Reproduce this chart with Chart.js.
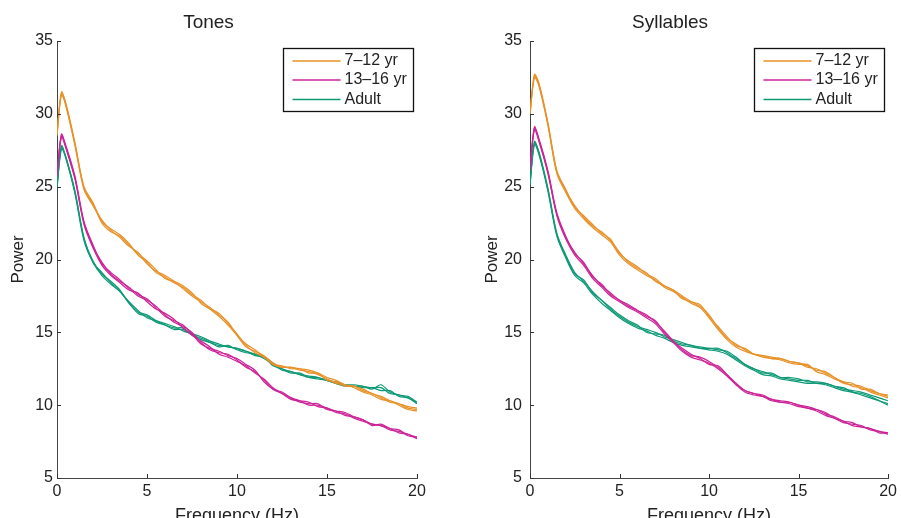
<!DOCTYPE html>
<html>
<head>
<meta charset="utf-8">
<script src="https://cdn.jsdelivr.net/npm/chart.js@4.4.1/dist/chart.umd.min.js"></script>
<style>
  body { margin: 0; background: #fff; width: 901px; height: 518px; overflow: hidden; position: relative; }
  .panel { position: absolute; top: 0; height: 518px; }
  #left { left: 0; width: 450px; }
  #right { left: 450px; width: 451px; }
</style>
</head>
<body>
<div class="panel" id="left"><canvas id="tones"></canvas></div>
<div class="panel" id="right"><canvas id="syllables"></canvas></div>
<script>
// frequency axis (Hz)
const freqs = [0, 0.25, 0.5, 1, 1.5, 2, 2.5, 3, 3.5, 4, 4.5, 5, 5.5, 6, 6.5, 7, 7.5, 8, 8.5, 9, 9.5,
               10, 10.5, 11, 11.5, 12, 12.5, 13, 13.5, 14, 14.5, 15, 15.5, 16, 16.5, 17, 17.5, 18, 18.5, 19, 19.5, 20];
const groups = ["7\u201312 yr", "13\u201316 yr", "Adult"];
const xTicks = [0, 5, 10, 15, 20];
const yTicks = [5, 10, 15, 20, 25, 30, 35];

// Tones
const tonesKidsA = [28.5,31.4,30.7,28.0,25.0,23.9,22.6,22.1,21.7,21.1,20.3,19.8,19.1,18.8,18.4,18.1,17.6,17.2,16.6,16.1,15.5,14.8,14.2,13.8,13.3,12.8,12.6,12.6,12.5,12.4,12.2,11.9,11.7,11.4,11.3,11.1,10.8,10.6,10.3,10.1,9.9,9.8];
const tonesKidsB = [28.7,31.3,30.5,27.8,24.8,23.7,22.7,22.0,21.5,20.9,20.5,19.7,19.2,18.9,18.5,18.0,17.5,17.1,16.7,16.2,15.7,14.8,14.0,13.7,13.4,12.9,12.6,12.6,12.4,12.3,12.1,11.8,11.5,11.4,11.2,10.9,10.7,10.4,10.3,10.0,9.7,9.6];
const tonesKidsC = [28.6,31.5,30.6,27.9,24.9,23.8,22.5,21.9,21.6,21.0,20.4,19.9,19.3,18.7,18.5,18.2,17.7,17.0,16.6,16.3,15.6,14.9,14.1,13.6,13.3,12.8,12.7,12.5,12.5,12.2,12.2,11.7,11.6,11.3,11.3,11.0,10.8,10.5,10.2,10.1,9.8,9.7];

const tonesTeenA = [25.7,28.5,27.8,25.7,22.6,21.0,19.7,19.1,18.6,18.0,17.5,17.2,16.8,16.2,15.7,15.4,15.0,14.3,13.8,13.6,13.5,13.1,12.6,12.3,11.7,11.1,10.8,10.5,10.3,10.0,10.0,9.8,9.6,9.3,9.2,9.0,8.7,8.6,8.3,8.2,8.0,7.8];
const tonesTeenB = [25.9,28.4,27.6,25.5,22.4,20.8,19.6,18.9,18.4,17.9,17.7,17.1,16.6,16.3,15.9,15.3,14.8,14.4,14.0,13.5,13.3,13.0,12.7,12.2,11.8,11.2,10.8,10.4,10.3,10.2,9.9,9.8,9.5,9.4,9.1,8.9,8.7,8.6,8.4,8.1,8.0,7.7];
const tonesTeenC = [25.8,28.6,27.7,25.6,22.5,20.9,19.8,19.0,18.5,18.1,17.6,17.3,16.7,16.1,15.8,15.5,14.9,14.2,13.9,13.7,13.4,13.2,12.8,12.4,11.6,11.1,10.9,10.5,10.2,10.1,10.1,9.7,9.6,9.5,9.2,9.0,8.6,8.7,8.4,8.3,7.9,7.8];

const tonesAdultA = [25.0,27.8,27.0,24.7,21.5,19.9,19.0,18.5,17.9,17.0,16.4,16.2,15.8,15.5,15.2,15.2,14.9,14.5,14.3,14.1,14.0,13.9,13.7,13.4,13.3,12.7,12.5,12.3,12.1,11.9,11.9,11.7,11.5,11.4,11.3,11.3,11.1,11.4,10.9,10.7,10.6,10.2];
const tonesAdultB = [25.1,27.7,26.9,24.6,21.4,19.8,19.1,18.4,17.8,17.1,16.5,16.0,15.8,15.6,15.4,15.1,14.9,14.7,14.4,14.2,14.0,13.9,13.7,13.5,13.2,12.8,12.4,12.3,12.1,12.0,11.9,11.7,11.6,11.4,11.4,11.3,11.2,11.2,10.8,10.7,10.5,10.2];
const tonesAdultC = [24.9,27.6,27.0,24.5,21.3,19.8,18.9,18.3,17.8,17.0,16.3,16.1,15.7,15.5,15.3,15.3,14.8,14.6,14.3,14.0,14.1,13.8,13.6,13.5,13.3,12.9,12.5,12.2,12.2,11.9,11.8,11.7,11.5,11.3,11.3,11.2,11.2,11.0,11.0,10.6,10.5,10.1];

// Syllables
const syllKidsA = [29.9,32.7,32.1,29.4,26.1,24.8,23.6,23.0,22.4,21.8,21.4,20.4,19.9,19.5,19.0,18.7,18.2,17.9,17.5,17.1,16.8,16.2,15.3,14.6,14.2,13.8,13.5,13.4,13.3,13.2,13.0,12.9,12.6,12.5,12.2,11.9,11.6,11.5,11.1,11.1,10.8,10.7];
const syllKidsB = [30.1,32.5,31.9,29.2,25.9,24.6,23.5,22.8,22.2,21.7,21.2,20.3,19.7,19.3,18.9,18.6,18.1,17.8,17.4,17.0,16.7,16.0,15.2,14.5,14.0,13.7,13.5,13.3,13.2,13.1,12.9,12.8,12.8,12.3,12.1,11.8,11.6,11.3,11.2,10.9,10.7,10.5];
const syllKidsC = [30.0,32.6,32.0,29.3,26.0,24.7,23.7,22.9,22.3,21.9,21.3,20.5,19.8,19.4,19.1,18.5,18.2,17.9,17.3,17.1,16.9,16.1,15.4,14.7,14.1,13.9,13.5,13.4,13.2,13.2,13.0,12.9,12.7,12.4,12.3,11.9,11.5,11.4,11.3,11.0,10.8,10.6];

const syllTeenA = [26.1,29.0,28.3,26.1,23.2,21.6,20.4,19.8,18.8,18.3,17.6,17.2,16.8,16.5,16.2,15.7,15.1,14.4,13.8,13.4,13.3,13.0,12.6,12.1,11.5,11.0,10.8,10.7,10.4,10.3,10.2,10.0,9.9,9.7,9.4,9.2,8.9,8.8,8.5,8.4,8.2,8.1];
const syllTeenB = [26.2,28.9,28.1,25.9,23.0,21.4,20.3,19.6,18.7,18.1,17.5,17.1,16.7,16.4,16.0,15.6,14.9,14.3,13.7,13.3,13.1,12.9,12.5,12.0,11.4,10.9,10.7,10.6,10.3,10.2,10.1,9.9,9.8,9.6,9.3,9.1,8.8,8.7,8.6,8.3,8.2,8.0];
const syllTeenC = [26.3,29.1,28.2,26.0,23.1,21.5,20.5,19.7,18.9,18.2,17.7,17.2,16.9,16.5,16.1,15.8,15.0,14.4,13.9,13.5,13.2,12.8,12.7,12.1,11.5,11.0,10.8,10.6,10.4,10.2,10.2,10.0,9.8,9.7,9.5,9.1,8.9,8.6,8.5,8.4,8.1,8.1];

const syllAdultA = [25.2,28.0,27.4,24.9,21.8,20.3,19.1,18.5,17.8,17.2,16.6,16.1,15.7,15.4,15.2,15.0,14.7,14.5,14.3,14.1,14.0,13.9,13.9,13.6,13.2,12.8,12.5,12.2,12.2,11.9,11.9,11.8,11.6,11.6,11.5,11.3,11.1,11.0,10.9,10.7,10.5,10.3];
const syllAdultB = [25.1,27.9,27.2,24.7,21.6,20.1,18.9,18.4,17.6,17.0,16.5,16.0,15.6,15.3,15.1,14.8,14.6,14.3,14.1,14.0,13.9,13.8,13.7,13.5,13.1,12.7,12.4,12.1,12.0,11.8,11.7,11.6,11.5,11.5,11.4,11.2,11.0,10.9,10.7,10.5,10.3,10.1];
const syllAdultC = [25.3,28.1,27.3,24.8,21.7,20.2,19.0,18.6,17.7,17.2,16.7,16.2,15.8,15.5,15.0,14.9,14.8,14.4,14.2,14.1,13.9,13.9,13.8,13.7,13.3,12.8,12.5,12.3,12.1,11.9,11.8,11.7,11.7,11.5,11.5,11.3,11.2,10.9,10.8,10.6,10.3,10.0];

const colors = ["rgb(232,145,40)", "rgb(204,36,152)", "rgb(14,153,118)"];
const FONT = "'Liberation Sans', Arial, Helvetica, sans-serif";

function makeDatasets(sets) {
  const out = [];
  sets.forEach((lines, g) => {
    lines.forEach(arr => {
      out.push({
        label: groups[g],
        data: freqs.map((f, i) => ({ x: f, y: arr[i] })),
        borderColor: colors[g],
        borderWidth: 1.2,
        pointRadius: 0,
        tension: 0.3,
        fill: false
      });
    });
  });
  return out;
}

// inward MATLAB-style tick marks + boxed legend
const matlabBits = {
  id: 'matlabBits',
  afterDraw(chart) {
    const { ctx, chartArea: a, scales } = chart;
    ctx.save();
    ctx.strokeStyle = '#333';
    ctx.lineWidth = 1;
    ctx.beginPath();
    xTicks.forEach(v => {
      const px = Math.round(scales.x.getPixelForValue(v)) + 0.5;
      ctx.moveTo(px, a.bottom);
      ctx.lineTo(px, a.bottom - 4);
    });
    yTicks.forEach(v => {
      const py = Math.round(scales.y.getPixelForValue(v)) + 0.5;
      ctx.moveTo(a.left, py);
      ctx.lineTo(a.left + 4, py);
    });
    ctx.stroke();

    // legend box
    const bw = 130, bh = 63;
    const bx = Math.round(a.right - 4 - bw) + 0.5;
    const by = Math.round(a.top + 7) + 0.5;
    ctx.fillStyle = '#fff';
    ctx.fillRect(bx, by, bw, bh);
    ctx.strokeStyle = '#111';
    ctx.lineWidth = 1.3;
    ctx.strokeRect(bx, by, bw, bh);
    const rows = [12.5, 31.5, 51];
    ctx.font = '16px ' + FONT;
    ctx.textBaseline = 'middle';
    ctx.textAlign = 'left';
    groups.forEach((g, i) => {
      const ry = by + rows[i];
      ctx.beginPath();
      ctx.strokeStyle = colors[i];
      ctx.lineWidth = 1.4;
      ctx.moveTo(bx + 9, ry);
      ctx.lineTo(bx + 57, ry);
      ctx.stroke();
      ctx.fillStyle = '#222';
      ctx.fillText(g, bx + 61, ry);
    });
    ctx.restore();
  }
};

function makeChart(id, title, sets, yWidth, yTitlePad, yTickPad, padRight) {
  return new Chart(document.getElementById(id), {
    type: 'line',
    data: { datasets: makeDatasets(sets) },
    options: {
      responsive: true,
      maintainAspectRatio: false,
      animation: false,
      layout: { padding: { left: 0, right: padRight, top: 0, bottom: 0 } },
      plugins: {
        legend: { display: false },
        tooltip: { enabled: false },
        title: {
          display: true,
          text: title,
          color: '#222',
          font: { family: FONT, size: 19, weight: 'normal' },
          padding: { top: 11, bottom: 7.2 }
        }
      },
      scales: {
        x: {
          type: 'linear',
          min: 0, max: 20,
          afterFit: s => { s.height = 40; },
          afterBuildTicks: s => { s.ticks = xTicks.map(v => ({ value: v })); },
          ticks: { color: '#222', font: { family: FONT, size: 16 }, padding: 4, maxRotation: 0 },
          grid: { display: true, drawOnChartArea: false, drawTicks: false },
          border: { display: true, color: '#444', width: 1 },
          title: {
            display: true, text: 'Frequency (Hz)', color: '#222',
            font: { family: FONT, size: 18 }, padding: { top: 0, bottom: -9 }
          }
        },
        y: {
          min: 5, max: 35,
          afterFit: s => { s.width = yWidth; },
          afterBuildTicks: s => { s.ticks = yTicks.map(v => ({ value: v })); },
          ticks: { color: '#222', font: { family: FONT, size: 16 }, padding: yTickPad },
          grid: { display: true, drawOnChartArea: false, drawTicks: false },
          border: { display: true, color: '#444', width: 1 },
          title: {
            display: true, text: 'Power', color: '#222',
            font: { family: FONT, size: 17 }, padding: { top: yTitlePad, bottom: 0 }
          }
        }
      }
    },
    plugins: [matlabBits]
  });
}

makeChart('tones', 'Tones', [
  [tonesKidsA, tonesKidsB, tonesKidsC],
  [tonesTeenA, tonesTeenB, tonesTeenC],
  [tonesAdultA, tonesAdultB, tonesAdultC]
], 57, 8, 4, 33);

makeChart('syllables', 'Syllables', [
  [syllKidsA, syllKidsB, syllKidsC],
  [syllTeenA, syllTeenB, syllTeenC],
  [syllAdultA, syllAdultB, syllAdultC]
], 80, 32, 8, 11);
</script>
</body>
</html>
